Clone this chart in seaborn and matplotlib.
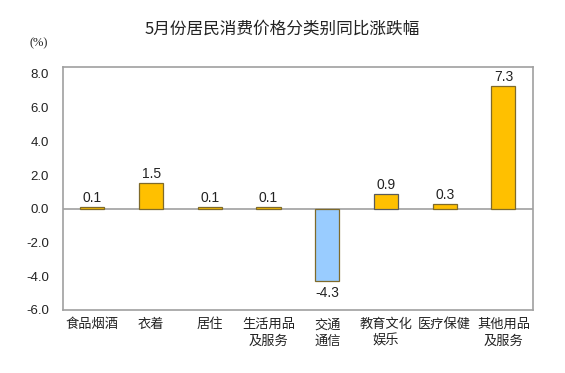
import matplotlib
matplotlib.use("Agg")
import matplotlib.pyplot as plt
import seaborn as sns
import pandas as pd

categories = ["食品烟酒", "衣着", "居住", "生活用品\n及服务", "交通\n通信",
              "教育文化\n娱乐", "医疗保健", "其他用品\n及服务"]
values = [0.1, 1.5, 0.1, 0.1, -4.3, 0.9, 0.3, 7.3]
y_ticks = [-6.0, -4.0, -2.0, 0.0, 2.0, 4.0, 6.0, 8.0]

sns.set_style("white")
plt.rcParams["font.family"] = ["Liberation Sans", "Noto Sans CJK SC", "DejaVu Sans"]

df = pd.DataFrame({"cat": categories, "val": values})
df["sign"] = ["pos" if v >= 0 else "neg" for v in values]

fig = plt.figure(figsize=(5.65, 3.73), dpi=100)
ax = fig.add_axes([0.1115, 0.169, 0.8315, 0.651])

sns.barplot(data=df, x="cat", y="val", hue="sign",
            palette={"pos": "#FFC000", "neg": "#99CCFF"}, saturation=1,
            width=0.41, dodge=False, legend=False, ax=ax)
for p, v in zip(ax.patches, values):
    p.set_edgecolor("#7F6A2A" if v >= 0 else "#5A5A5A")
    p.set_linewidth(0.9)

# value labels above / below bars
for i, v in enumerate(values):
    if v >= 0:
        ax.text(i, v + 0.12, f"{v:.1f}", ha="center", va="bottom", fontsize=10, color="#222222")
    else:
        ax.text(i, v - 0.25, f"{v:.1f}", ha="center", va="top", fontsize=10, color="#222222")

ax.axhline(0, color="#A0A0A0", lw=1.2, zorder=0.5)
ax.set_ylim(-6, 8.4)
ax.set_xlim(-0.5, len(categories) - 0.5)
ax.set_yticks(y_ticks)
ax.set_yticklabels([f"{t:.1f}" for t in y_ticks], fontsize=9.5, color="#222222")
ax.set_xticks(range(len(categories)))
ax.set_xticklabels(categories, fontsize=9.5, family=["Noto Sans CJK SC"], color="#222222",
                   linespacing=1.35)
ax.tick_params(axis="y", direction="in", length=3, color="#A0A0A0", pad=10)
ax.tick_params(axis="x", length=0, pad=6)
ax.set_xlabel("")
ax.set_ylabel("")
for s in ax.spines.values():
    s.set_color("#A0A0A0")
    s.set_linewidth(1.2)

fig.text(0.5, 0.922, "5月份居民消费价格分类别同比涨跌幅", ha="center", va="center",
         fontsize=12, family=["Noto Sans CJK SC"], color="#222222")
fig.text(0.068, 0.884, "(%)", ha="center", va="center", fontsize=9, color="#222222",
         family=["Liberation Serif"])

fig.savefig("out.png", dpi=100)
